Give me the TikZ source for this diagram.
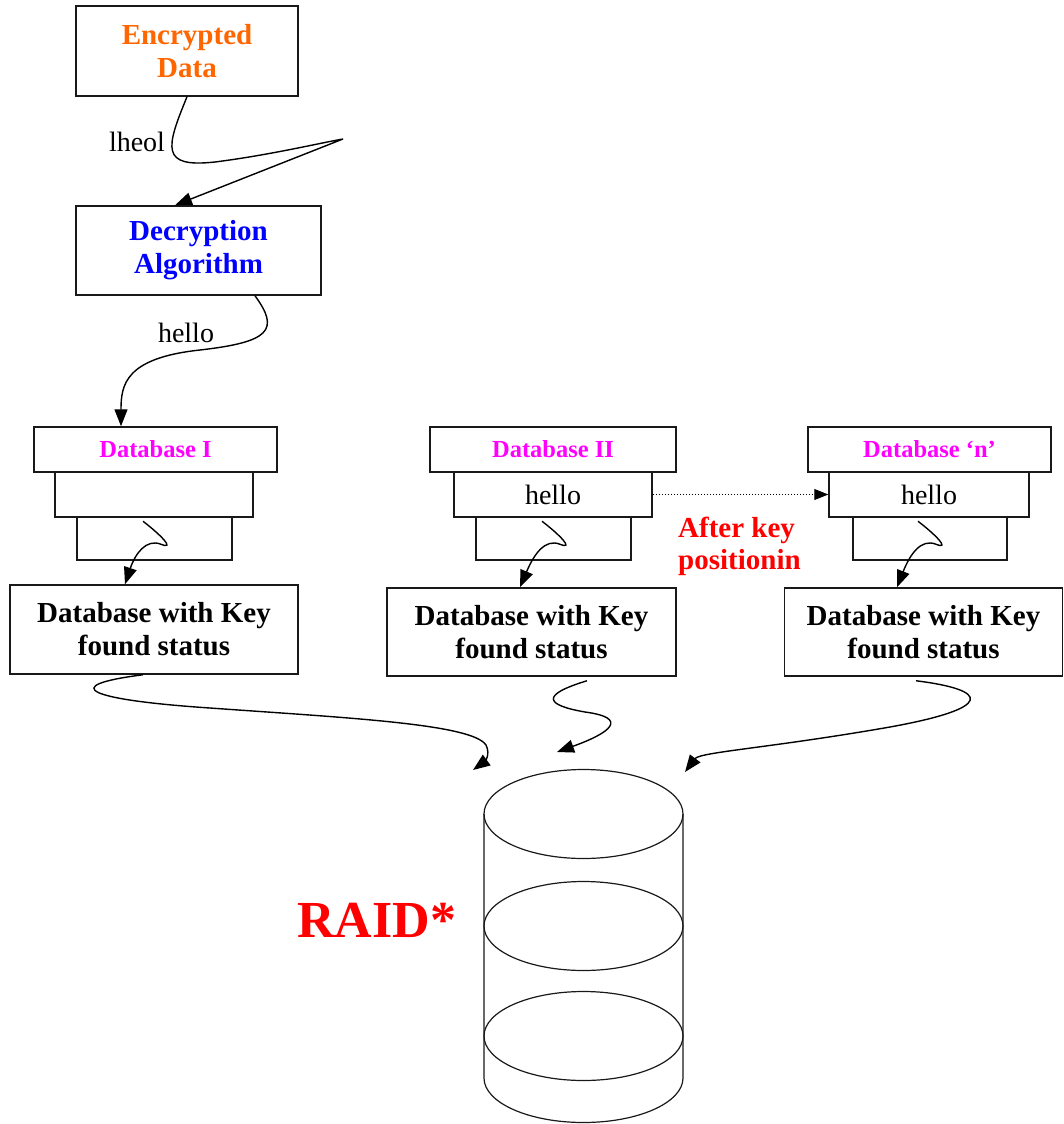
\documentclass[tikz,border=0pt]{standalone}
\usepackage{fontspec}
\setmainfont{Liberation Serif}
\usetikzlibrary{arrows.meta,calc}
\definecolor{encorange}{RGB}{255,102,0}
\definecolor{decblue}{RGB}{0,0,255}
\definecolor{dbmagenta}{RGB}{255,0,255}
\definecolor{alertred}{RGB}{255,0,0}
\newcommand\dbarrow[2]{\draw[conn] (#1) .. controls ($(#1)+(17,13)$) and ($(#1)+(33,29)$) .. ($(#1)+(18,23)$) .. controls ($(#1)+(3,17)$) and ($(#1)+(-8,33)$) .. (#2);}
\begin{document}
\begin{tikzpicture}[x=1pt,y=-1pt,
  box/.style={draw=black!90,line width=1.5pt,rectangle,inner sep=0pt,align=center,fill=white},
  title/.style={font=\fontsize{29}{33}\selectfont\bfseries},
  dbtitle/.style={font=\fontsize{24.5}{28}\selectfont\bfseries,text=dbmagenta},
  plain/.style={font=\fontsize{28}{32}\selectfont},
  conn/.style={line width=1.4pt,-{Triangle[length=17pt,width=13pt]}},
  cyl/.style={line width=1.2pt,draw=black!90}
]
\useasboundingbox (0,0) rectangle (1064,1124);

% top chain
\node[box,title,text=encorange,minimum width=222pt,minimum height=90pt] (enc) at (187,51) {Encrypted\\Data};
\node[box,title,text=decblue,minimum width=245pt,minimum height=89pt] (dec) at (198.5,250.5) {Decryption\\Algorithm};

% stack I
\node[box,minimum width=155pt,minimum height=43pt] (dbIbot) at (154.5,538.5) {};
\node[box,minimum width=198pt,minimum height=45pt] (dbImid) at (154,494.5) {};
\node[box,dbtitle,minimum width=243pt,minimum height=45pt] (dbItop) at (155.5,449.5) {Database I};
% stack II
\node[box,minimum width=155pt,minimum height=43pt] (dbIIbot) at (553.5,538.5) {};
\node[box,plain,minimum width=198pt,minimum height=45pt] (dbIImid) at (553,494.5) {hello};
\node[box,dbtitle,minimum width=246pt,minimum height=45pt] (dbIItop) at (553,449.5) {Database II};
% stack n
\node[box,minimum width=154pt,minimum height=43pt] (dbnbot) at (930,538.5) {};
\node[box,plain,minimum width=200pt,minimum height=45pt] (dbnmid) at (929,494.5) {hello};
\node[box,dbtitle,minimum width=243pt,minimum height=45pt] (dbntop) at (929.5,449.5) {Database ‘n’};

% status boxes
\node[box,title,minimum width=288pt,minimum height=89pt] (st1) at (154,629.5) {Database with Key\\found status};
\node[box,title,minimum width=289pt,minimum height=88pt] (st2) at (531.5,632) {Database with Key\\found status};
\node[box,title,minimum width=278pt,minimum height=88pt] (st3) at (923.5,632) {Database with Key\\found status};

% labels
\node[plain] (lbl1) at (137,142) {lheol};
\node[plain] (lbl2) at (186,333) {hello};
\node[font=\fontsize{29}{32}\selectfont\bfseries,text=alertred,align=left,anchor=west,inner sep=0pt] (after) at (678,546) {After key\\positionin};
\node[font=\fontsize{52}{56}\selectfont\bfseries,text=alertred,anchor=west,inner sep=0pt] (raid) at (297,920) {RAID*};

% cylinder
\draw[cyl] (484,814) -- (484,1078) arc[start angle=180,end angle=360,x radius=99.5pt,y radius=44.5pt] -- (683,814);
\draw[cyl] (583.5,814) ellipse [x radius=99.5pt,y radius=44.5pt];
\draw[cyl] (583.5,926) ellipse [x radius=99.5pt,y radius=44.5pt];
\draw[cyl] (583.5,1036) ellipse [x radius=99.5pt,y radius=44.5pt];
\coordinate (raid1) at (473,770);
\coordinate (raid2) at (557,752);
\coordinate (raid3) at (685,772);

% connectors
\draw[conn] (enc.south) .. controls (166,148) and (160,168) .. (215,162) .. controls (270,155) and (320,143) .. (343,139) -- ([xshift=-23.5pt]dec.north);
\draw[conn] ([xshift=56.5pt]dec.south) .. controls (280,330) and (270,342) .. (200,350) .. controls (125,358) and (121,385) .. ([xshift=-34.5pt]dbItop.north);

\coordinate (s1) at ([xshift=-11.5pt,yshift=-5pt]dbIbot.north);
\coordinate (s2) at ([xshift=-11.5pt,yshift=-5pt]dbIIbot.north);
\coordinate (s3) at ([xshift=-12pt,yshift=-5pt]dbnbot.north);
\dbarrow{s1}{[xshift=-29pt]st1.north}
\dbarrow{s2}{[xshift=-11.5pt]st2.north}
\dbarrow{s3}{[xshift=-26.5pt]st3.north}

\draw[line width=1pt,dash pattern=on 1.5pt off 1.5pt,-{Triangle[length=14pt,width=11pt]}] (dbIImid.east) -- (dbnmid.west);

\draw[conn] ([xshift=-11pt]st1.south) .. controls (55,686) and (90,700) .. (210,708) .. controls (350,718) and (472,724) .. (486,745) .. controls (491,755) and (484,762) .. (raid1);
\draw[conn] ([xshift=55.5pt,yshift=-4pt]st2.south) .. controls (540,695) and (545,705) .. (585,712) .. controls (630,718) and (610,733) .. (raid2);
\draw[conn] ([xshift=-7.5pt,yshift=-4pt]st3.south) .. controls (990,690) and (995,708) .. (890,727) .. controls (770,748) and (700,752) .. (raid3);
\end{tikzpicture}
\end{document}
